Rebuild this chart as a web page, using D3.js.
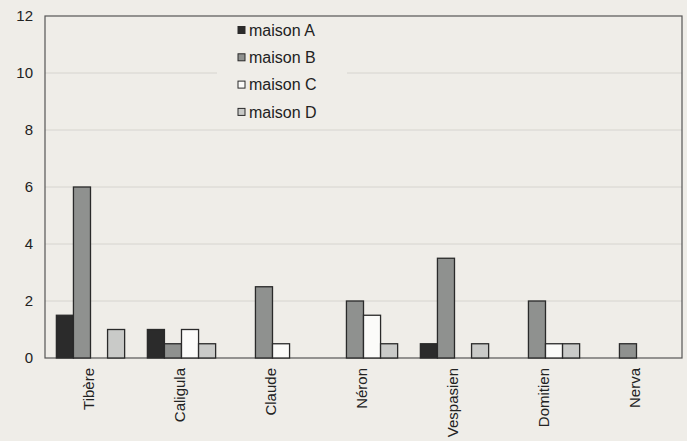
<!doctype html>
<html>
<head>
<meta charset="utf-8">
<style>
  body { margin: 0; background: #efede8; }
  svg { display: block; font-family: "Liberation Sans", Arial, sans-serif; }
</style>
<script src="https://d3js.org/d3.v7.min.js"></script>
</head>
<body>
<svg width="687" height="441"></svg>
<script>
// empereurs (categories)
var empereurs = ["Tibère", "Caligula", "Claude", "Néron", "Vespasien", "Domitien", "Nerva"];
var series = ["maison A", "maison B", "maison C", "maison D"];
var maisonA = [1.5, 1, 0, 0, 0.5, 0, 0];
var maisonB = [6, 0.5, 2.5, 2, 3.5, 2, 0.5];
var maisonC = [0, 1, 0.5, 1.5, 0, 0.5, 0];
var maisonD = [1, 0.5, 0, 0.5, 0.5, 0.5, 0];
var yTicks = [0, 2, 4, 6, 8, 10, 12];
var colors = ["#2b2b2b", "#8f918f", "#fbfbf9", "#c9cac8"];

var values = [maisonA, maisonB, maisonC, maisonD];

var svg = d3.select("svg");
// note: "top" is taken by window.top, so use other names
var pLeft = 45, pRight = 682, pTop = 16, pBottom = 358;

var x = d3.scaleBand().domain(empereurs).range([pLeft, pRight])
    .paddingInner(0.25).paddingOuter(0.125);
var xs = d3.scaleBand().domain(series).range([0, x.bandwidth()]);
var y = d3.scaleLinear().domain([0, 12]).range([pBottom, pTop]);

// faint gridlines
svg.append("g").selectAll("line")
   .data(yTicks.filter(function(d) { return d > 0 && d < 12; }))
   .enter().append("line")
   .attr("x1", pLeft).attr("x2", pRight)
   .attr("y1", function(d) { return y(d); })
   .attr("y2", function(d) { return y(d); })
   .attr("stroke", "#d6d4cf").attr("stroke-width", 1);

// legend background hides the grid
svg.append("rect")
   .attr("x", 217).attr("y", pTop + 1).attr("width", 130).attr("height", 106)
   .attr("fill", "#efede8");

// frame
svg.append("rect")
   .attr("x", pLeft).attr("y", pTop)
   .attr("width", pRight - pLeft).attr("height", pBottom - pTop)
   .attr("fill", "none").attr("stroke", "#555").attr("stroke-width", 1.2);

// y tick labels
svg.append("g").selectAll("text")
   .data(yTicks).enter().append("text")
   .attr("x", 33).attr("y", function(d) { return y(d); })
   .attr("dy", "0.35em").attr("text-anchor", "end")
   .attr("font-size", "15px").attr("fill", "#222")
   .text(function(d) { return d; });

// bars
var groups = svg.append("g").selectAll("g")
   .data(empereurs).enter().append("g")
   .attr("transform", function(d) { return "translate(" + x(d) + ",0)"; });

groups.selectAll("rect")
   .data(function(d, i) {
       return series.map(function(s, j) { return { s: s, v: values[j][i], c: colors[j] }; });
   })
   .enter().filter(function(d) { return d.v > 0; })
   .append("rect")
   .attr("x", function(d) { return xs(d.s); })
   .attr("y", function(d) { return y(d.v); })
   .attr("width", xs.bandwidth())
   .attr("height", function(d) { return pBottom - y(d.v); })
   .attr("fill", function(d) { return d.c; })
   .attr("stroke", "#2a2a2a").attr("stroke-width", 1.3);

// category labels, rotated
svg.append("g").selectAll("text")
   .data(empereurs).enter().append("text")
   .attr("transform", function(d) {
       return "translate(" + (x(d) + x.bandwidth() / 2 - 2) + "," + 368 + ") rotate(-90)";
   })
   .attr("dy", "0.35em").attr("text-anchor", "end")
   .attr("font-size", "15px").attr("fill", "#222")
   .text(function(d) { return d; });

// legend
var leg = svg.append("g").selectAll("g")
   .data(series).enter().append("g")
   .attr("transform", function(d, i) { return "translate(238," + (30 + i * 27.3) + ")"; });
leg.append("rect")
   .attr("x", 0).attr("y", -3.5).attr("width", 7).attr("height", 7)
   .attr("fill", function(d, i) { return colors[i]; })
   .attr("stroke", "#2a2a2a").attr("stroke-width", 1);
leg.append("text")
   .attr("x", 11).attr("dy", "0.35em")
   .attr("font-size", "16px").attr("fill", "#222")
   .text(function(d) { return d; });
</script>
</body>
</html>
